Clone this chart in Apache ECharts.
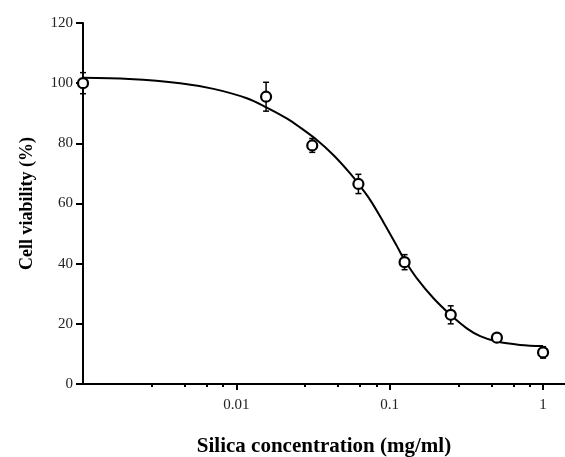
<!DOCTYPE html>
<html>
<head>
<meta charset="utf-8">
<script src="https://cdn.jsdelivr.net/npm/echarts@6/dist/echarts.min.js"></script>
<style>
html,body{margin:0;padding:0;background:#fff;}
#chart{width:565px;height:457px;}
</style>
</head>
<body>
<div id="chart"></div>
<script>
// Measured points (mg/ml, % viability, error)
const concentrations = [0.001, 0.015625, 0.03125, 0.0625, 0.125, 0.25, 0.5, 1];
const viability = [100.0, 95.5, 79.3, 66.5, 40.5, 23.0, 15.4, 10.5];
const errorSD = [3.5, 4.8, 2.3, 3.2, 2.5, 3.0, 1.0, 1.9];

// Fitted curve
const curveX = [0.001, 0.002, 0.0043, 0.0071, 0.0117, 0.0158, 0.0213, 0.026, 0.0335, 0.0429, 0.0552, 0.0625, 0.0745, 0.091, 0.111, 0.125, 0.150, 0.193, 0.25, 0.318, 0.389, 0.5, 0.708, 1.0];
const curveY = [101.8, 101.4, 100.0, 98.1, 95.0, 91.9, 88.3, 85.3, 81.1, 76.1, 70.0, 66.5, 61.2, 53.8, 46.0, 41.2, 35.2, 28.5, 22.9, 18.5, 15.9, 14.1, 13.0, 12.6];

// Axis ticks
const xMajorTicks = [0.01, 0.1, 1];
const xMinorTicks = [0.0028, 0.0046, 0.0064, 0.0082, 0.028, 0.046, 0.064, 0.082, 0.28, 0.46, 0.64, 0.82];
const yTicks = [0, 20, 40, 60, 80, 100, 120];

const xTitle = 'Silica concentration (mg/ml)';
const yTitle = 'Cell viability (%)';

const serif = 'Liberation Serif, Times New Roman, serif';

const chart = echarts.init(document.getElementById('chart'), null, {renderer: 'canvas'});

const pointData = concentrations.map((x, i) => [x, viability[i]]);
const errData = concentrations.map((x, i) => [x, viability[i] - errorSD[i], viability[i] + errorSD[i]]);
const curveData = curveX.map((x, i) => [x, curveY[i]]);

const option = {
  backgroundColor: '#fff',
  animation: false,
  grid: {left: 83, right: 0, top: 23, bottom: 73, containLabel: false, outerBoundsMode: 'none'},
  xAxis: [{
    type: 'log',
    logBase: 10,
    min: 0.001,
    max: 1.39,
    axisLine: {show: true, onZero: false, lineStyle: {color: '#000', width: 2}},
    axisTick: {show: true, customValues: xMajorTicks, length: 6, inside: false, lineStyle: {color: '#000', width: 2}},
    axisLabel: {show: true, customValues: xMajorTicks, fontFamily: serif, fontSize: 15, color: '#222', margin: 14,
      formatter: v => String(+v.toPrecision(6))},
    splitLine: {show: false},
    minorTick: {show: false},
    name: xTitle,
    nameLocation: 'middle',
    nameGap: 52,
    nameTextStyle: {fontFamily: serif, fontWeight: 'bold', fontSize: 21, color: '#000'}
  }, {
    type: 'log',
    logBase: 10,
    min: 0.001,
    max: 1.39,
    position: 'bottom',
    axisLine: {show: false},
    axisTick: {show: true, customValues: xMinorTicks, length: 3, lineStyle: {color: '#000', width: 2}},
    axisLabel: {show: false},
    splitLine: {show: false}
  }],
  yAxis: {
    type: 'value',
    min: yTicks[0],
    max: yTicks[yTicks.length - 1],
    interval: 20,
    axisLine: {show: true, lineStyle: {color: '#000', width: 2}},
    axisTick: {show: true, length: 7, lineStyle: {color: '#000', width: 2}},
    axisLabel: {fontFamily: serif, fontSize: 15, color: '#222', margin: 10},
    splitLine: {show: false},
    name: yTitle,
    nameLocation: 'middle',
    nameGap: 47,
    nameTextStyle: {fontFamily: serif, fontWeight: 'bold', fontSize: 18, color: '#000'}
  },
  series: [{
    type: 'line',
    data: curveData,
    smooth: 0.35,
    showSymbol: false,
    clip: false,
    lineStyle: {color: '#000', width: 2},
    z: 2
  }, {
    type: 'custom',
    data: errData,
    clip: false,
    encode: {x: 0, y: [1, 2]},
    renderItem: function (params, api) {
      const x = api.value(0);
      const lo = api.coord([x, api.value(1)]);
      const hi = api.coord([x, api.value(2)]);
      const cap = 3;
      const st = {stroke: '#000', lineWidth: 1.5};
      return {
        type: 'group',
        children: [
          {type: 'line', shape: {x1: lo[0], y1: lo[1], x2: hi[0], y2: hi[1]}, style: st},
          {type: 'line', shape: {x1: lo[0] - cap, y1: lo[1], x2: lo[0] + cap, y2: lo[1]}, style: st},
          {type: 'line', shape: {x1: hi[0] - cap, y1: hi[1], x2: hi[0] + cap, y2: hi[1]}, style: st}
        ]
      };
    },
    z: 3
  }, {
    type: 'scatter',
    data: pointData,
    symbol: 'circle',
    symbolSize: 10,
    clip: false,
    itemStyle: {color: '#fff', borderColor: '#000', borderWidth: 2.2, opacity: 1},
    z: 4
  }]
};
chart.setOption(option);
</script>
</body>
</html>
